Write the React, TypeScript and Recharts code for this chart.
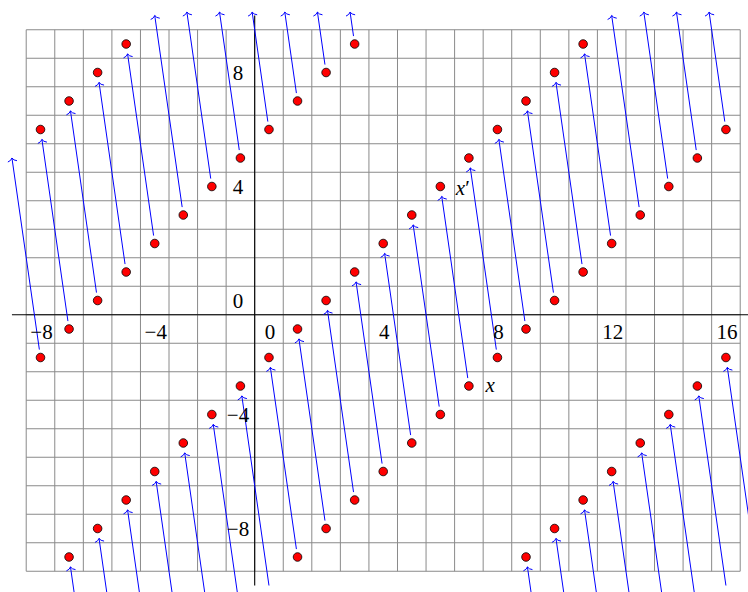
import React from "react";
import { ScatterChart, Scatter, XAxis, YAxis, ReferenceLine, ReferenceDot } from "recharts";

// visible window in data units (origin sits at ~254.7px, 28.56 px per unit across, 28.5 down)
const X_MIN = -8.918;
const X_MAX = 17.273;
const Y_MIN = -9.728;
const Y_MAX = 11.044;
const Y_CLIP = 10.62; // arrows running off the top stop here

const gridXs = [-8, -7, -6, -5, -4, -3, -2, -1, 0, 1, 2, 3, 4, 5, 6, 7, 8, 9, 10, 11, 12, 13, 14, 15, 16, 17];
const gridYs = [-9, -8, -7, -6, -5, -4, -3, -2, -1, 0, 1, 2, 3, 4, 5, 6, 7, 8, 9, 10];

const xTicks = [-8, -4, 0, 4, 8, 12, 16];
const xTickLabels = ["−8", "−4", "0", "4", "8", "12", "16"];
const yTicks = [-8, -4, 0, 4, 8];
const yTickLabels = ["−8", "−4", "0", "4", "8"];

// red points, one list per diagonal
const dotsA = [[-7.5, 6.5], [-6.5, 7.5], [-5.5, 8.5], [-4.5, 9.5]];
const dotsB = [
  [-7.5, -1.5], [-6.5, -0.5], [-5.5, 0.5], [-4.5, 1.5], [-3.5, 2.5], [-2.5, 3.5],
  [-1.5, 4.5], [-0.5, 5.5], [0.5, 6.5], [1.5, 7.5], [2.5, 8.5], [3.5, 9.5],
];
const dotsC = [
  [-6.5, -8.5], [-5.5, -7.5], [-4.5, -6.5], [-3.5, -5.5], [-2.5, -4.5], [-1.5, -3.5],
  [-0.5, -2.5], [0.5, -1.5], [1.5, -0.5], [2.5, 0.5], [3.5, 1.5], [4.5, 2.5], [5.5, 3.5],
  [6.5, 4.5], [7.5, 5.5], [8.5, 6.5], [9.5, 7.5], [10.5, 8.5], [11.5, 9.5],
];
const dotsD = [
  [1.5, -8.5], [2.5, -7.5], [3.5, -6.5], [4.5, -5.5], [5.5, -4.5], [6.5, -3.5], [7.5, -2.5],
  [8.5, -1.5], [9.5, -0.5], [10.5, 0.5], [11.5, 1.5], [12.5, 2.5], [13.5, 3.5], [14.5, 4.5],
  [15.5, 5.5], [16.5, 6.5],
];
const dotsE = [
  [9.5, -8.5], [10.5, -7.5], [11.5, -6.5], [12.5, -5.5], [13.5, -4.5], [14.5, -3.5],
  [15.5, -2.5], [16.5, -1.5],
];

// arrows: [fromX, fromY, toX, toY]
const arrowsFromB = [
  [-7.5, -1.5, -8.5, 5.5], [-6.5, -0.5, -7.5, 6.5], [-5.5, 0.5, -6.5, 7.5], [-4.5, 1.5, -5.5, 8.5],
  [-3.5, 2.5, -4.5, 9.5], [-2.5, 3.5, -3.5, 10.5], [-1.5, 4.5, -2.5, 11.5], [-0.5, 5.5, -1.5, 12.5],
  [0.5, 6.5, -0.5, 13.5], [1.5, 7.5, 0.5, 14.5], [2.5, 8.5, 1.5, 15.5], [3.5, 9.5, 2.5, 16.5],
];
const arrowsFromD = [
  [1.5, -8.5, 0.5, -1.5], [2.5, -7.5, 1.5, -0.5], [3.5, -6.5, 2.5, 0.5], [4.5, -5.5, 3.5, 1.5],
  [5.5, -4.5, 4.5, 2.5], [6.5, -3.5, 5.5, 3.5], [7.5, -2.5, 6.5, 4.5], [8.5, -1.5, 7.5, 5.5],
  [9.5, -0.5, 8.5, 6.5], [10.5, 0.5, 9.5, 7.5], [11.5, 1.5, 10.5, 8.5], [12.5, 2.5, 11.5, 9.5],
  [13.5, 3.5, 12.5, 10.5], [14.5, 4.5, 13.5, 11.5], [15.5, 5.5, 14.5, 12.5], [16.5, 6.5, 15.5, 13.5],
];
const arrowsIntoC = [
  [-5.5, -15.5, -6.5, -8.5], [-4.5, -14.5, -5.5, -7.5], [-3.5, -13.5, -4.5, -6.5],
  [-2.5, -12.5, -3.5, -5.5], [-1.5, -11.5, -2.5, -4.5], [-0.5, -10.5, -1.5, -3.5],
  [0.5, -9.5, -0.5, -2.5],
];
const arrowsIntoE = [
  [10.5, -15.5, 9.5, -8.5], [11.5, -14.5, 10.5, -7.5], [12.5, -13.5, 11.5, -6.5],
  [13.5, -12.5, 12.5, -5.5], [14.5, -11.5, 13.5, -4.5], [15.5, -10.5, 14.5, -3.5],
  [16.5, -9.5, 15.5, -2.5], [17.5, -8.5, 16.5, -1.5],
];

const labelX = [7.5, -2.5];
const labelXPrime = [6.5, 4.5];

const SERIF = "'Liberation Serif', 'Times New Roman', serif";
const BLUE = "#0000ff";

const dots = [...dotsA, ...dotsB, ...dotsC, ...dotsD, ...dotsE].map(([x, y]) => ({ x, y }));
const isDot = (x: number, y: number) => x >= -8 && x <= 17 && y >= -9 && y <= 10;

const RedDot = (p: any) => (
  <circle cx={p.cx} cy={p.cy} r={4.3} fill="#ff0000" stroke="#000" strokeWidth={0.8} />
);

function arrowShape(cutStart: number, cutEnd: number) {
  return (p: any) => {
    const { x1, y1, x2, y2 } = p;
    const dx = x2 - x1;
    const dy = y2 - y1;
    const len = Math.hypot(dx, dy) || 1;
    const ux = dx / len;
    const uy = dy / len;
    const nx = -uy;
    const ny = ux;
    const sx = x1 + ux * cutStart;
    const sy = y1 + uy * cutStart;
    const tx = x2 - ux * cutEnd;
    const ty = y2 - uy * cutEnd;
    const back = 3.4;
    const half = 4.6;
    const lx = tx - ux * back + nx * half;
    const ly = ty - uy * back + ny * half;
    const rx = tx - ux * back - nx * half;
    const ry = ty - uy * back - ny * half;
    const clx = tx - ux * 2.6 + nx * 1.2;
    const cly = ty - uy * 2.6 + ny * 1.2;
    const crx = tx - ux * 2.6 - nx * 1.2;
    const cry = ty - uy * 2.6 - ny * 1.2;
    return (
      <g>
        <line x1={sx} y1={sy} x2={tx} y2={ty} stroke={BLUE} strokeWidth={1} />
        <path
          d={`M${lx},${ly} Q${clx},${cly} ${tx},${ty} Q${crx},${cry} ${rx},${ry}`}
          fill="none"
          stroke={BLUE}
          strokeWidth={1}
        />
      </g>
    );
  };
}

function textShape(content: React.ReactNode, dx: number, dy: number, anchor = "middle") {
  return (p: any) => (
    <text
      x={p.cx + dx}
      y={p.cy + dy}
      textAnchor={anchor}
      fontFamily={SERIF}
      fontSize={21}
      fill="#000"
    >
      {content}
    </text>
  );
}

export default function App() {
  const arrows = [...arrowsFromB, ...arrowsFromD, ...arrowsIntoC, ...arrowsIntoE];

  return (
    <div
      style={{
        position: "absolute",
        left: 0,
        top: 0,
        width: 748,
        height: 592,
        overflow: "hidden",
        background: "#fff",
      }}
    >
      <ScatterChart width={748} height={592} margin={{ top: 0, right: 0, bottom: 0, left: 0 }}>
        <XAxis type="number" dataKey="x" domain={[X_MIN, X_MAX]} allowDataOverflow hide />
        <YAxis type="number" dataKey="y" domain={[Y_MIN, Y_MAX]} allowDataOverflow hide />

        {gridXs.map((k) => (
          <ReferenceLine
            key={`gx${k}`}
            segment={[{ x: k, y: -9 }, { x: k, y: 10 }]}
            stroke="#8a8a8a"
            strokeWidth={1}
            ifOverflow="visible"
          />
        ))}
        {gridYs.map((k) => (
          <ReferenceLine
            key={`gy${k}`}
            segment={[{ x: -8, y: k }, { x: 17, y: k }]}
            stroke="#8a8a8a"
            strokeWidth={1}
            ifOverflow="visible"
          />
        ))}

        <ReferenceLine
          segment={[{ x: -8.5, y: 0 }, { x: 17.5, y: 0 }]}
          stroke="#000"
          strokeWidth={1.1}
          ifOverflow="visible"
        />
        <ReferenceLine
          segment={[{ x: 0, y: -9.5 }, { x: 0, y: 10.5 }]}
          stroke="#000"
          strokeWidth={1.1}
          ifOverflow="visible"
        />

        {arrows.map(([fx, fy, tx, ty], i) => {
          let ex = tx;
          let ey = ty;
          if (ty > Y_CLIP) {
            const t = (Y_CLIP - fy) / (ty - fy);
            ex = fx + t * (tx - fx);
            ey = Y_CLIP;
          }
          const cutStart = isDot(fx, fy) ? 8 : 0;
          const cutEnd = isDot(tx, ty) ? 10 : 0;
          return (
            <ReferenceLine
              key={`a${i}`}
              segment={[{ x: fx, y: fy }, { x: ex, y: ey }]}
              ifOverflow="visible"
              shape={arrowShape(cutStart, cutEnd)}
            />
          );
        })}

        <Scatter data={dots} isAnimationActive={false} shape={RedDot} />

        {xTicks.map((v, i) => (
          <ReferenceDot
            key={`xt${v}`}
            x={v}
            y={0}
            r={0}
            ifOverflow="visible"
            shape={textShape(xTickLabels[i], 15.3, 24.3)}
          />
        ))}
        {yTicks.map((v, i) => (
          <ReferenceDot
            key={`yt${v}`}
            x={0}
            y={v}
            r={0}
            ifOverflow="visible"
            shape={textShape(yTickLabels[i], -16.7, -7)}
          />
        ))}

        <ReferenceDot
          x={labelX[0]}
          y={labelX[1]}
          r={0}
          ifOverflow="visible"
          shape={textShape(<tspan fontStyle="italic">x</tspan>, 16.5, 6, "start")}
        />
        <ReferenceDot
          x={labelXPrime[0]}
          y={labelXPrime[1]}
          r={0}
          ifOverflow="visible"
          shape={textShape(
            <>
              <tspan fontStyle="italic">x</tspan>
              <tspan>′</tspan>
            </>,
            15.5,
            8.5,
            "start"
          )}
        />
      </ScatterChart>
    </div>
  );
}
